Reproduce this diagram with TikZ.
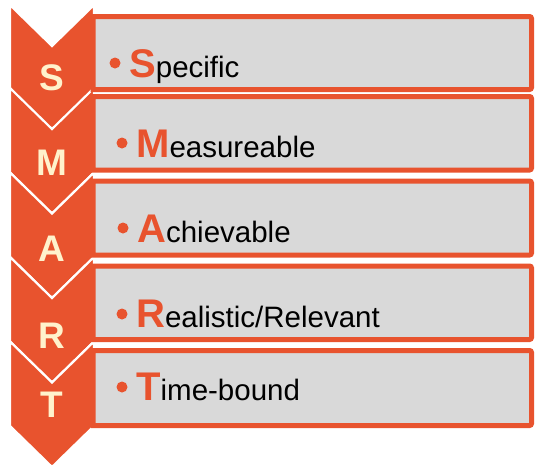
\documentclass[tikz,border=0pt]{standalone}
\usepackage{fontspec}
\setmainfont{Liberation Sans}
\definecolor{smartorange}{RGB}{232,83,46}
\definecolor{smartgray}{RGB}{217,217,217}
\definecolor{smartcream}{RGB}{255,242,204}
\newcommand{\smartlabel}[2]{{\fontsize{40}{40}\selectfont\bfseries\color{smartorange}#1}{\fontsize{29.5}{29.5}\selectfont #2}}

\begin{document}
\begin{tikzpicture}[x=1pt, y=-1pt, chevron/.style={fill=smartorange, draw=white, line width=2.2pt}, box/.style={fill=smartgray, draw=smartorange, line width=5pt}, letter node/.style={inner sep=0pt, text=smartcream, font=\fontsize{37}{37}\selectfont\bfseries}, dot node/.style={circle, fill=smartorange, inner sep=0pt, minimum size=11pt}, text node/.style={anchor=base west, inner sep=0pt}]
  \useasboundingbox (0,0) rectangle (535,466);

  % chevrons
  \foreach \t in {5,88,172.5,257,341.5}
    \draw[chevron] (10,\t) -- (52,\t+41) -- (94,\t) -- (94,\t+84.5) -- (52,\t+125.5) -- (10,\t+84.5) -- cycle;

  % boxes
  \foreach \t/\b in {16.5/89.5, 96.5/170, 181/255, 266/339.5, 350.5/425.5}
    \draw[box] (93,\t) -- (529.5,\t) arc (-90:0:2) -- (531.5,\b-2) arc (0:90:2) -- (93,\b) -- cycle;

  \node[letter node] (s) at (52,78) {S};
  \node[letter node] (m) at (52,163) {M};
  \node[letter node] (a) at (52,249) {A};
  \node[letter node] (r) at (52,336) {R};
  \node[letter node] (t) at (52,405) {T};

  \node[dot node] (dot1) at (115,63) {};
  \node[dot node] (dot2) at (122,143) {};
  \node[dot node] (dot3) at (123,228) {};
  \node[dot node] (dot4) at (122,314) {};
  \node[dot node] (dot5) at (122,387) {};

  \node[text node] (specific) at (129,77) {\smartlabel{S}{pecific}};
  \node[text node] (measureable) at (136,157) {\smartlabel{M}{easureable}};
  \node[text node] (achievable) at (137,242) {\smartlabel{A}{chievable}};
  \node[text node] (relevant) at (136,327) {\smartlabel{R}{ealistic/Relevant}};
  \node[text node] (timebound) at (136,400) {\smartlabel{T}{ime-bound}};
\end{tikzpicture}
\end{document}
